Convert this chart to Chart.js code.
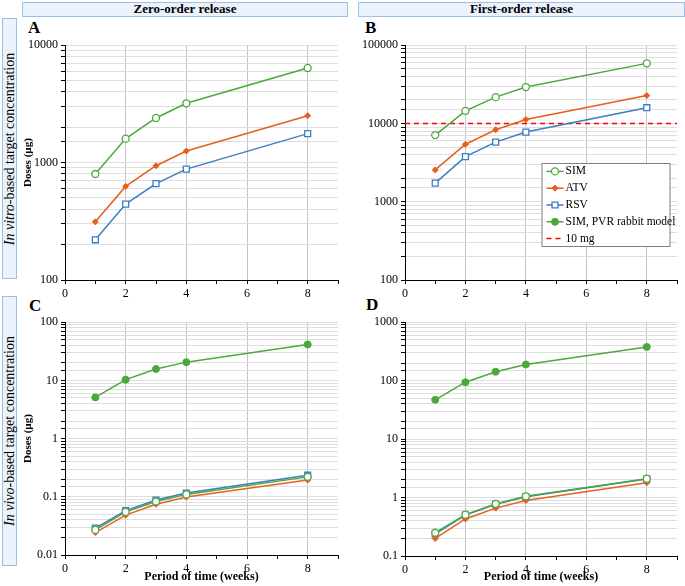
<!DOCTYPE html>
<html>
<head>
<meta charset="utf-8">
<script src="https://cdn.jsdelivr.net/npm/chart.js@4.4.0/dist/chart.umd.min.js"></script>
<style>
body { margin:0; background:#fff; width:685px; height:586px; position:relative; overflow:hidden; font-family:"Liberation Serif", "Times New Roman", serif; }
.box { position:absolute; box-sizing:border-box; border:1px solid #9bbfe6; background:#ebf2fb; }
.hdr { font-weight:bold; font-size:13px; text-align:center; line-height:12px; }
.side span { position:absolute; left:50%; top:50%; transform:translate(-50%,-50%) rotate(-90deg); white-space:nowrap; font-size:14px; }
.lbl { position:absolute; font-weight:bold; font-size:17px; line-height:17px; }
canvas { position:absolute; }
</style>
</head>
<body>
<div class="box hdr" style="left:22px;top:2px;width:326px;height:15px;">Zero-order release</div>
<div class="box hdr" style="left:358px;top:2px;width:327px;height:15px;">First-order release</div>
<div class="box side" style="left:2px;top:18px;width:15px;height:261px;"><span><i>In vitro</i>-based target concentration</span></div>
<div class="box side" style="left:2px;top:296px;width:15px;height:270px;"><span><i>In vivo</i>-based target concentration</span></div>
<div class="lbl" style="left:28px;top:19px;">A</div>
<div class="lbl" style="left:365px;top:19px;">B</div>
<div class="lbl" style="left:29px;top:297px;">C</div>
<div class="lbl" style="left:366px;top:296px;">D</div>

<canvas id="chartA" width="327" height="265" style="left:18px;top:35px;width:327px;height:265px;"></canvas>
<canvas id="chartB" width="340" height="265" style="left:345px;top:35px;width:340px;height:265px;"></canvas>
<canvas id="chartC" width="327" height="274" style="left:18px;top:312px;width:327px;height:274px;"></canvas>
<canvas id="chartD" width="340" height="274" style="left:345px;top:312px;width:340px;height:274px;"></canvas>

<script>
// weeks on the x axis
const weeks = [1, 2, 3, 4, 8];
const xMin = 0, xMax = 9;

// A: in vitro, zero-order (µg)
const simVitroZero = [800, 1600, 2400, 3200, 6400];
const atvVitroZero = [313, 627, 940, 1255, 2510];
const rsvVitroZero = [220, 443, 662, 880, 1765];

// B: in vitro, first-order (µg)
const simVitroFirst = [7100, 14500, 21700, 29200, 58600];
const atvVitroFirst = [2550, 5430, 8320, 11230, 22700];
const rsvVitroFirst = [1730, 3770, 5770, 7760, 15900];
const tenMg = 10000;

// C: in vivo, zero-order (µg)
const simVivoZero = [0.027, 0.055, 0.083, 0.11, 0.22];
const atvVivoZero = [0.0243, 0.0484, 0.0743, 0.099, 0.194];
const rsvVivoZero = [0.029, 0.058, 0.088, 0.116, 0.235];
const pvrVivoZero = [5.1, 10.3, 15.7, 20.6, 41.5];

// D: in vivo, first-order (µg)
const simVivoFirst = [0.25, 0.51, 0.78, 1.05, 2.1];
const atvVivoFirst = [0.2, 0.43, 0.66, 0.89, 1.79];
const rsvVivoFirst = [0.24, 0.5, 0.77, 1.03, 2.08];
const pvrVivoFirst = [47, 94, 142, 189, 378];

const green = '#4ca83c', orange = '#e6601a', blue = '#3a7dc6', red = '#ff0000';

Chart.defaults.font.family = '"Liberation Serif", "Times New Roman", serif';
Chart.defaults.color = '#000';

function pts(vals) {
  return vals ? weeks.map((w, i) => ({x: w, y: vals[i]})) : [];
}

function makeDatasets(sim, atv, rsv, pvr, limit) {
  return [
    {label: 'SIM', data: pts(sim), borderColor: green, borderWidth: 1.5,
     pointStyle: 'circle', pointRadius: 3.5, pointBackgroundColor: '#fff', pointBorderColor: green, pointBorderWidth: 1.3},
    {label: 'ATV', data: pts(atv), borderColor: orange, borderWidth: 1.5,
     pointStyle: 'rectRot', pointRadius: 3, pointBackgroundColor: orange, pointBorderColor: orange, pointBorderWidth: 1},
    {label: 'RSV', data: pts(rsv), borderColor: blue, borderWidth: 1.5,
     pointStyle: 'rect', pointRadius: 4.2, pointBackgroundColor: '#fff', pointBorderColor: blue, pointBorderWidth: 1.3},
    {label: 'SIM, PVR rabbit model', data: pts(pvr), borderColor: green, borderWidth: 1.5,
     pointStyle: 'circle', pointRadius: 3.5, pointBackgroundColor: green, pointBorderColor: green, pointBorderWidth: 1},
    {label: '10 mg', data: limit ? [{x: xMin, y: limit}, {x: xMax, y: limit}] : [],
     borderColor: red, borderWidth: 1.5, borderDash: [5, 4], pointRadius: 0}
  ];
}

// legend drawn in a box inside panel B
const boxLegend = {
  id: 'boxLegend',
  afterDraw(chart, args, opts) {
    if (!opts.show) return;
    const ctx = chart.ctx;
    ctx.save();
    ctx.fillStyle = '#fff';
    ctx.strokeStyle = '#7f7f7f';
    ctx.lineWidth = 1;
    ctx.fillRect(opts.x, opts.y, opts.w, opts.h);
    ctx.strokeRect(opts.x + 0.5, opts.y + 0.5, opts.w, opts.h);
    chart.data.datasets.forEach((d, i) => {
      const cy = opts.y + 8.4 + i * 16.8;
      const x0 = opts.x + 5, x1 = x0 + 17;
      ctx.strokeStyle = d.borderColor;
      ctx.lineWidth = 1.5;
      ctx.setLineDash(d.borderDash || []);
      ctx.beginPath();
      ctx.moveTo(x0, cy);
      ctx.lineTo(x1, cy);
      ctx.stroke();
      ctx.setLineDash([]);
      if (d.pointRadius > 0 && Chart.helpers && Chart.helpers.drawPoint) {
        ctx.fillStyle = d.pointBackgroundColor;
        ctx.strokeStyle = d.pointBorderColor;
        ctx.lineWidth = d.pointBorderWidth;
        Chart.helpers.drawPoint(ctx, {pointStyle: d.pointStyle, radius: d.pointRadius, rotation: 0, borderWidth: d.pointBorderWidth}, (x0 + x1) / 2, cy);
      }
      ctx.fillStyle = '#000';
      ctx.font = '11.5px "Liberation Serif"';
      ctx.textBaseline = 'middle';
      ctx.fillText(d.label, x1 + 2, cy);
    });
    ctx.restore();
  }
};

function logLabel(v) {
  const l = Math.log10(v);
  if (Math.abs(l - Math.round(l)) > 1e-9) return '';
  return l >= 0 ? String(Math.round(v)) : v.toFixed(-Math.round(l));
}

function makeOptions(p) {
  return {
    responsive: false,
    animation: false,
    layout: {padding: {top: p.padTop, right: p.padRight, left: 0, bottom: 0}},
    plugins: {
      legend: {display: false},
      tooltip: {enabled: false},
      boxLegend: p.legend || {show: false}
    },
    scales: {
      x: {
        type: 'linear', min: xMin, max: xMax,
        afterFit(s) { s.height = p.xHeight; },
        ticks: {stepSize: 1, autoSkip: false, maxRotation: 0, padding: 3, font: {size: 12},
                callback: v => (v % 2 === 0 ? String(v) : '')},
        grid: {color: c => (c.tick && c.tick.value % 2 === 0 && c.tick.value > 0) ? '#c4c4c4' : 'rgba(0,0,0,0)',
               tickColor: '#000', tickLength: 4},
        border: {color: '#000', width: 1},
        title: {display: !!p.xTitle, text: 'Period of time (weeks)', font: {size: 12, weight: 'bold'},
                padding: {top: 0, bottom: 2}}
      },
      y: {
        type: 'logarithmic', min: p.yMin, max: p.yMax,
        afterFit(s) { s.width = p.yWidth; },
        ticks: {autoSkip: false, padding: 3, font: {size: 12}, callback: logLabel},
        grid: {color: '#dedede', tickColor: '#000', tickLength: 4},
        border: {color: '#000', width: 1},
        title: {display: !!p.yTitle, text: 'Doses (µg)', font: {size: 11, weight: 'bold'},
                padding: {top: 3.4, bottom: 0}}
      }
    }
  };
}

new Chart(document.getElementById('chartA'), {
  type: 'line',
  data: {datasets: makeDatasets(simVitroZero, atvVitroZero, rsvVitroZero, null, null)},
  options: makeOptions({padTop: 8, padRight: 7, xHeight: 20, yWidth: 47, yMin: 100, yMax: 10000, yTitle: true}),
  plugins: [boxLegend]
});

new Chart(document.getElementById('chartB'), {
  type: 'line',
  data: {datasets: makeDatasets(simVitroFirst, atvVitroFirst, rsvVitroFirst, null, tenMg)},
  options: makeOptions({padTop: 8, padRight: 8, xHeight: 20, yWidth: 60, yMin: 100, yMax: 100000,
                        legend: {show: true, x: 196.5, y: 128, w: 128, h: 83}}),
  plugins: [boxLegend]
});

new Chart(document.getElementById('chartC'), {
  type: 'line',
  data: {datasets: makeDatasets(simVivoZero, atvVivoZero, rsvVivoZero, pvrVivoZero, null)},
  options: makeOptions({padTop: 7, padRight: 7, xHeight: 31, yWidth: 47, yMin: 0.01, yMax: 100, yTitle: true, xTitle: true}),
  plugins: [boxLegend]
});

new Chart(document.getElementById('chartD'), {
  type: 'line',
  data: {datasets: makeDatasets(simVivoFirst, atvVivoFirst, rsvVivoFirst, pvrVivoFirst, null)},
  options: makeOptions({padTop: 7, padRight: 8, xHeight: 30, yWidth: 60, yMin: 0.1, yMax: 1000, xTitle: true}),
  plugins: [boxLegend]
});
</script>
</body>
</html>
